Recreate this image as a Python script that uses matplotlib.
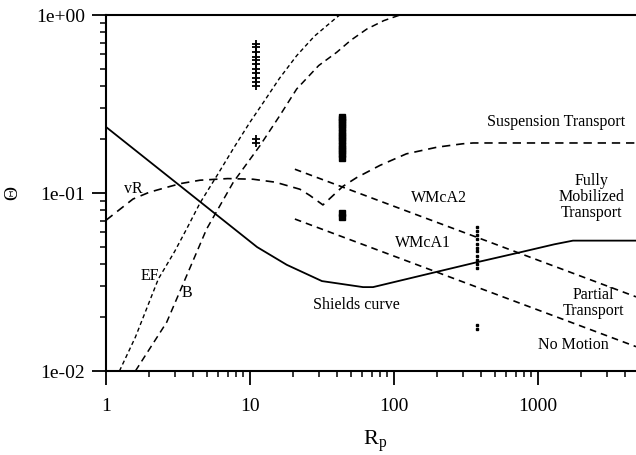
import matplotlib
matplotlib.use('Agg')
import matplotlib.pyplot as plt

plt.rcParams['font.family'] = ['Liberation Serif', 'DejaVu Serif']
plt.rcParams['mathtext.fontset'] = 'stix'

# Shields curve (solid)
shields_x = [1, 11.2, 18, 31.6, 61, 71.5, 375, 750, 1300, 1750, 4800]
shields_y = [0.235, 0.0497, 0.0395, 0.032, 0.0296, 0.0296, 0.0408, 0.0464, 0.0515, 0.054, 0.054]

# vR curve joined to suspension transport curve
vr_x = [1, 1.54, 2.0, 2.64, 3.3, 4.5, 7.0, 10.5, 15, 22.2, 26, 32.1,
        44.2, 55, 80, 122, 200, 300, 354, 4800]
vr_y = [0.0703, 0.0925, 0.101, 0.1076, 0.113, 0.118, 0.1205, 0.1195, 0.115, 0.105, 0.097, 0.0857,
        0.109, 0.122, 0.143, 0.166, 0.181, 0.189, 0.191, 0.191]

# EF curve
ef_x = [1.24, 1.6, 2.31, 3.0, 3.63, 4.5, 5.71, 7.87, 10, 12.4, 16, 21.1, 28, 40, 42]
ef_y = [0.01, 0.0155, 0.0329, 0.047, 0.0628, 0.088, 0.12, 0.184, 0.25, 0.323, 0.44, 0.591, 0.76, 0.97, 1.0]

# B curve
b_x = [1.6, 2.64, 3.63, 5.0, 7.66, 11.7, 16, 21.1, 30, 40, 50, 64.8, 85, 110]
b_y = [0.01, 0.0188, 0.0343, 0.0628, 0.115, 0.184, 0.27, 0.384, 0.52, 0.617, 0.72, 0.834, 0.93, 1.0]

# WMcA lines
wmca2_x = [20.5, 4800]
wmca2_y = [0.136, 0.0261]
wmca1_x = [20.5, 4800]
wmca1_y = [0.0714, 0.0137]

# measured points
pts1_y = [0.40, 0.42, 0.44, 0.47, 0.50, 0.53, 0.56, 0.58, 0.62, 0.66, 0.69, 0.19, 0.20]
pts1_x = [11.0] * len(pts1_y)
pts2_y = [0.158, 0.165, 0.172, 0.18, 0.186, 0.197, 0.205, 0.213, 0.22, 0.232,
          0.24, 0.25, 0.26, 0.268, 0.073, 0.077]
pts2_x = [43.8] * len(pts2_y)
pts3_y = [0.038, 0.040, 0.042, 0.044, 0.047, 0.049, 0.052, 0.055, 0.058, 0.061,
          0.064, 0.0172, 0.0182]
pts3_x = [375] * len(pts3_y)

fig = plt.figure(figsize=(6.36, 4.56), dpi=100)
ax = fig.add_axes([106 / 636, 1 - 372 / 456, 530 / 636, 356 / 456])

ax.plot(shields_x, shields_y, color='black', lw=1.3)
ax.plot(vr_x, vr_y, color='black', lw=1.2, dashes=(5, 3.5))
ax.plot(ef_x, ef_y, color='black', lw=1.0, dashes=(3, 2.2))
ax.plot(b_x, b_y, color='black', lw=1.1, dashes=(4.5, 3))
ax.plot(wmca2_x, wmca2_y, color='black', lw=1.2, dashes=(4, 3))
ax.plot(wmca1_x, wmca1_y, color='black', lw=1.2, dashes=(4, 3))

ax.plot(pts1_x, pts1_y, ls='none', marker='+', ms=6, mew=1.3, color='black')
ax.plot(pts2_x, pts2_y, ls='none', marker='s', ms=4.2, color='black')
ax.plot(pts3_x, pts3_y, ls='none', marker='s', ms=1.8, color='black')

fs = 11.5
ax.text(1.54, 0.1065, 'vR', fontsize=fs, ha='center', va='center')
ax.text(2.02, 0.0347, 'EF', fontsize=fs, ha='center', va='center')
ax.text(3.67, 0.0277, 'B', fontsize=fs, ha='center', va='center')
ax.text(55, 0.0238, 'Shields curve', fontsize=fs, ha='center', va='center')
ax.text(160, 0.0529, 'WMcA1', fontsize=fs, ha='center', va='center')
ax.text(206, 0.0947, 'WMcA2', fontsize=fs, ha='center', va='center')
ax.text(1334, 0.255, 'Suspension Transport', fontsize=fs, ha='center', va='center')
ax.text(2360, 0.0966, 'Fully\nMobilized\nTransport', fontsize=fs, ha='center', va='center',
        linespacing=1.0)
ax.text(2420, 0.0243, 'Partial\nTransport', fontsize=fs, ha='center', va='center',
        linespacing=1.0)
ax.text(1758, 0.0141, 'No Motion', fontsize=fs, ha='center', va='center')

ax.set_xscale('log')
ax.set_yscale('log')
ax.set_xlim(1, 4795)
ax.set_ylim(0.01, 1.0)

ax.set_xticks([1, 10, 100, 1000])
ax.set_xticklabels(['1', '10', '100', '1000'])
ax.set_yticks([0.01, 0.1, 1.0])
ax.set_yticklabels(['1e-02', '1e-01', '1e+00'])

ax.tick_params(which='major', direction='out', length=10, width=1.3, labelsize=14, pad=5)
ax.tick_params(which='minor', direction='out', length=4.5, width=1.1)
ax.tick_params(axis='x', which='major', pad=9)

for s in ['left', 'bottom', 'top']:
    ax.spines[s].set_linewidth(1.5)
ax.spines['right'].set_visible(False)

ax.set_xlabel(r'$\mathregular{R_p}$', fontsize=16)
ax.xaxis.set_label_coords(0.508, -0.16)
ax.set_ylabel('\u0398', fontsize=14)
ax.yaxis.set_label_coords(-0.16, 0.503)

fig.savefig('out.png', dpi=100)
